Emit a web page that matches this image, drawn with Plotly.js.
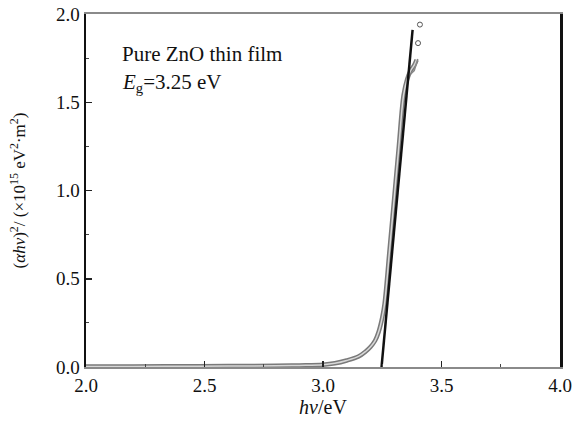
<!DOCTYPE html>
<html><head><meta charset="utf-8">
<script src="https://cdn.plot.ly/plotly-3.0.1.min.js"></script>
<style>body{margin:0;background:#fff}#c{width:572px;height:425px}</style>
</head><body><div id="c"></div>
<script>
var curveX = [2.0, 2.2, 2.4, 2.6, 2.8, 2.9, 3.0, 3.05, 3.1, 3.15, 3.18, 3.2, 3.22, 3.235, 3.25, 3.26, 3.28, 3.30, 3.32, 3.34, 3.355, 3.37, 3.385, 3.395];
var curveY = [0.003, 0.003, 0.004, 0.005, 0.007, 0.009, 0.013, 0.021, 0.037, 0.06, 0.088, 0.113, 0.15, 0.2, 0.28, 0.36, 0.65, 0.95, 1.25, 1.54, 1.63, 1.68, 1.71, 1.74];
var hookX = [3.37, 3.385, 3.40];
var hookY = [1.66, 1.68, 1.745];
var circX = [3.401, 3.409];
var circY = [1.835, 1.94];
var fitX = [3.247, 3.378];
var fitY = [0.0, 1.91];
var xTicks = [2.0, 2.5, 3.0, 3.5, 4.0];
var yTicks = [0.0, 0.5, 1.0, 1.5, 2.0];

var serif = 'Liberation Serif, Times New Roman, serif';
var traces = [
  {x: curveX, y: curveY, mode: 'lines', line: {color: '#7a7a7a', width: 4.5, shape: 'spline'}, hoverinfo: 'skip'},
  {x: curveX, y: curveY, mode: 'lines', line: {color: '#d8d8d8', width: 1.5, shape: 'spline'}, hoverinfo: 'skip'},
  {x: hookX, y: hookY, mode: 'lines', line: {color: '#888', width: 1.5}, hoverinfo: 'skip'},
  {x: fitX, y: fitY, mode: 'lines', line: {color: '#111', width: 2.5}, hoverinfo: 'skip'},
  {x: circX, y: circY, mode: 'markers', marker: {symbol: 'circle-open', size: 5, color: '#555', line: {width: 1}}, hoverinfo: 'skip'}
];
var layout = {
  width: 572, height: 425,
  margin: {l: 86, r: 12, t: 14, b: 58},
  paper_bgcolor: '#fff', plot_bgcolor: '#fff',
  showlegend: false,
  font: {family: serif, size: 19, color: '#111'},
  xaxis: {
    range: [2.0, 4.0], tickvals: xTicks, ticktext: xTicks.map(function(v){return v.toFixed(1);}),
    ticks: 'inside', ticklen: 6, tickwidth: 1.5, tickcolor: '#222',
    minor: {tickvals: [2.25, 2.75, 3.25, 3.75], ticks: 'inside', ticklen: 3, tickwidth: 1, tickcolor: '#444'},
    showline: true, linecolor: '#8a8a8a', linewidth: 2, mirror: true,
    showgrid: false, zeroline: false, ticklabeloverflow: 'allow',
    tickfont: {family: serif, size: 19, color: '#111'},
    title: {text: '<i>hν</i>/eV', font: {family: serif, size: 20, color: '#111'}, standoff: 5}
  },
  yaxis: {
    range: [0.0, 2.0], tickvals: yTicks, ticktext: yTicks.map(function(v){return v.toFixed(1);}),
    ticks: 'inside', ticklen: 6, tickwidth: 1.5, tickcolor: '#222',
    minor: {tickvals: [0.25, 0.75, 1.25, 1.75], ticks: 'inside', ticklen: 3, tickwidth: 1, tickcolor: '#444'},
    showline: true, linecolor: '#111', linewidth: 2.5, mirror: true,
    showgrid: false, zeroline: false,
    tickfont: {family: serif, size: 19, color: '#111'},
    title: {text: '(<i>αhν</i>)<sup>2</sup>/ (×10<sup>15</sup> eV<sup>2</sup>·m<sup>2</sup>)', font: {family: serif, size: 17, color: '#111'}, standoff: 26}
  },
  annotations: [
    {x: 2.145, y: 1.775, xref: 'x', yref: 'y', xanchor: 'left', yanchor: 'middle', showarrow: false,
     text: 'Pure ZnO thin film', font: {family: serif, size: 21, color: '#111'}},
    {x: 2.145, y: 1.61, xref: 'x', yref: 'y', xanchor: 'left', yanchor: 'middle', showarrow: false,
     text: '<i>E</i><sub>g</sub>=3.25 eV', font: {family: serif, size: 21, color: '#111'}}
  ]
};
Plotly.newPlot('c', traces, layout, {staticPlot: true});
</script></body></html>
